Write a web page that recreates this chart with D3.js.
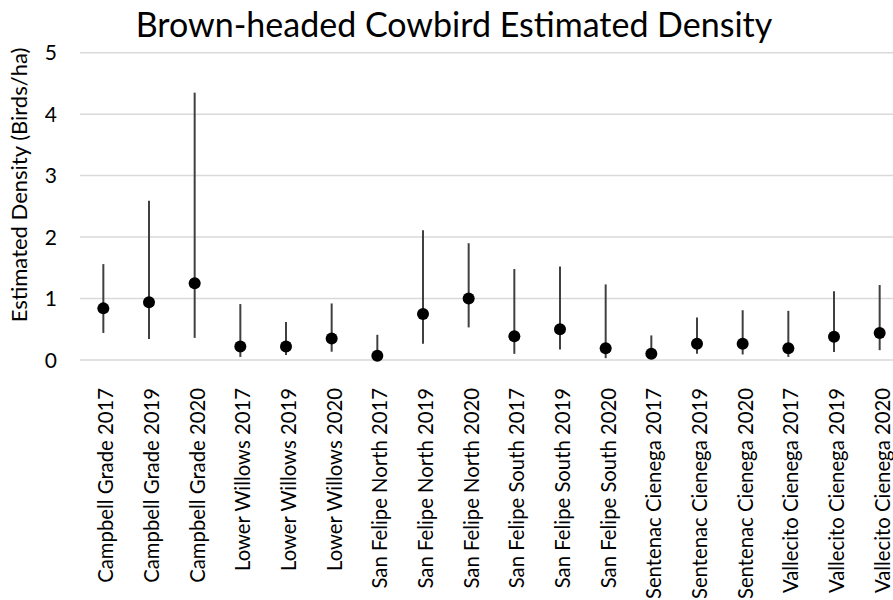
<!DOCTYPE html>
<meta charset="utf-8">
<html>
<head>
<title>Brown-headed Cowbird Estimated Density</title>
<style>
  body { margin: 0; background: #fff; }
  text { font-family: Lato, "Open Sans", sans-serif; fill: #000; }
  .grid line { stroke: #d9d9d9; stroke-width: 1.5; }
  .bar { stroke: #404040; stroke-width: 2; }
  .dot { fill: #000; }
</style>
<script src="https://d3js.org/d3.v7.min.js"></script>
</head>
<body>
<svg width="893" height="600"></svg>
<script>
  // sites / years, in order along the axis
  var sites = ["Campbell Grade 2017", "Campbell Grade 2019", "Campbell Grade 2020",
               "Lower Willows 2017", "Lower Willows 2019", "Lower Willows 2020",
               "San Felipe North 2017", "San Felipe North 2019", "San Felipe North 2020",
               "San Felipe South 2017", "San Felipe South 2019", "San Felipe South 2020",
               "Sentenac Cienega 2017", "Sentenac Cienega 2019", "Sentenac Cienega 2020",
               "Vallecito Cienega 2017", "Vallecito Cienega 2019", "Vallecito Cienega 2020"];
  // estimated density and confidence limits (birds/ha)
  var density = [0.84, 0.94, 1.25, 0.22, 0.22, 0.35, 0.07, 0.75, 1.00, 0.385, 0.50, 0.19, 0.10, 0.265, 0.265, 0.19, 0.38, 0.44];
  var lower   = [0.44, 0.34, 0.36, 0.05, 0.08, 0.135, 0.02, 0.265, 0.53, 0.10, 0.17, 0.03, 0.02, 0.10, 0.09, 0.05, 0.13, 0.16];
  var upper   = [1.56, 2.59, 4.35, 0.91, 0.62, 0.92, 0.41, 2.11, 1.90, 1.48, 1.52, 1.23, 0.40, 0.69, 0.81, 0.80, 1.12, 1.22];
  var yTicks = [0, 1, 2, 3, 4, 5];

  var svg = d3.select("svg");

  var x = d3.scaleBand()
      .domain(sites)
      .range([80.5, 902.5]);
  var y = d3.scaleLinear()
      .domain([0, 5])
      .range([360, 52.7]);

  // gridlines
  svg.append("g")
      .attr("class", "grid")
      .selectAll("line")
      .data(yTicks)
      .enter().append("line")
        .attr("x1", 80)
        .attr("x2", 893)
        .attr("y1", function(d) { return y(d); })
        .attr("y2", function(d) { return y(d); });

  // y tick labels
  svg.append("g")
      .selectAll("text")
      .data(yTicks)
      .enter().append("text")
        .attr("x", 57)
        .attr("y", function(d) { return y(d); })
        .attr("dy", "0.36em")
        .attr("text-anchor", "end")
        .style("font-size", "21px")
        .text(function(d) { return d; });

  // x labels, rotated
  svg.append("g")
      .selectAll("text")
      .data(sites)
      .enter().append("text")
        .attr("transform", function(d) {
          return "translate(" + (x(d) + x.bandwidth() / 2) + ",388) rotate(-90)";
        })
        .attr("dy", "0.5em")
        .attr("text-anchor", "end")
        .style("font-size", "20.3px")
        .text(function(d) { return d; });

  var data = sites.map(function(s, i) {
    return { site: s, v: density[i], lo: lower[i], hi: upper[i] };
  });

  // error bars
  svg.append("g")
      .selectAll("line")
      .data(data)
      .enter().append("line")
        .attr("class", "bar")
        .attr("x1", function(d) { return x(d.site) + x.bandwidth() / 2; })
        .attr("x2", function(d) { return x(d.site) + x.bandwidth() / 2; })
        .attr("y1", function(d) { return y(d.lo); })
        .attr("y2", function(d) { return y(d.hi); });

  // points
  svg.append("g")
      .selectAll("circle")
      .data(data)
      .enter().append("circle")
        .attr("class", "dot")
        .attr("cx", function(d) { return x(d.site) + x.bandwidth() / 2; })
        .attr("cy", function(d) { return y(d.v); })
        .attr("r", 6);

  // y axis title
  svg.append("text")
      .attr("transform", "translate(19,185) rotate(-90)")
      .attr("dy", "0.35em")
      .attr("text-anchor", "middle")
      .style("font-size", "22px")
      .text("Estimated Density (Birds/ha)");

  // chart title
  svg.append("text")
      .attr("x", 454)
      .attr("y", 37)
      .attr("text-anchor", "middle")
      .style("font-size", "34px")
      .text("Brown-headed Cowbird Estimated Density");
</script>
</body>
</html>
